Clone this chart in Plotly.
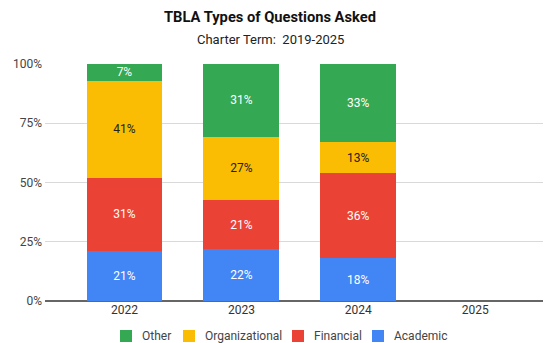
import plotly.graph_objects as go

years = ["2022", "2023", "2024", "2025"]
academic = [21, 22, 18, None]
financial = [31, 21, 36, None]
organizational = [41, 27, 13, None]
other = [7, 31, 33, None]

series = [
    ("Academic", academic, "#4285F4", "white"),
    ("Financial", financial, "#EA4335", "white"),
    ("Organizational", organizational, "#FBBC04", "#222222"),
    ("Other", other, "#34A853", "white"),
]

W, H = 545, 343
ML, MR, MT, MB = 45, 2, 64, 42
PLOT_W = W - ML - MR
PLOT_H = H - MT - MB


def px(x):
    # paper x coordinate for a pixel column
    return (x - ML) / PLOT_W


def py(y):
    # paper y coordinate for a pixel row measured from the top
    return (H - MB - y) / PLOT_H


fig = go.Figure()
for name, vals, color, tcolor in series:
    fig.add_trace(go.Bar(
        x=years, y=vals, name=name,
        marker=dict(color=color, line=dict(width=0)),
        text=[f"{v}%" if v is not None else "" for v in vals],
        textposition="inside", insidetextanchor="middle",
        textangle=0, constraintext="none",
        textfont=dict(color=tcolor, size=12, family="Roboto"),
        hoverinfo="skip", showlegend=False,
    ))

# compact legend row below the axis (Other, Organizational, Financial, Academic)
legend_left = [120, 183, 292, 372]
legend_y = 336
shapes = []
annotations = []
for (name, _, color, _), left in zip(reversed(series), legend_left):
    shapes.append(dict(
        type="rect", xref="paper", yref="paper",
        x0=px(left), x1=px(left + 12), y0=py(legend_y + 6), y1=py(legend_y - 6),
        fillcolor=color, line=dict(width=0),
    ))
    annotations.append(dict(
        text=name, x=px(left + 20), xref="paper", y=py(legend_y), yref="paper",
        xanchor="left", yanchor="middle", showarrow=False,
        font=dict(size=12, color="#444444", family="Roboto"),
    ))

annotations += [
    dict(text="<b>TBLA Types of Questions Asked</b>", x=px(270), xref="paper",
         y=py(17), yref="paper", xanchor="center", yanchor="middle",
         showarrow=False, font=dict(size=14.7, color="#111111", family="Roboto")),
    dict(text="Charter Term:  2019-2025", x=px(270), xref="paper",
         y=py(40), yref="paper", xanchor="center", yanchor="middle",
         showarrow=False, font=dict(size=13, color="#222222", family="Roboto")),
]

fig.update_layout(
    barmode="stack", barnorm="percent", bargap=0.35,
    width=W, height=H,
    margin=dict(l=ML, r=MR, t=MT, b=MB, autoexpand=False),
    paper_bgcolor="white", plot_bgcolor="white",
    font=dict(family="Roboto", size=12, color="#444444"),
    showlegend=False,
    shapes=shapes,
    annotations=annotations,
)
fig.update_xaxes(
    type="category", range=[-0.68, 3.58],
    showgrid=False, ticks="", showline=False,
    tickfont=dict(size=12, color="#333333"),
)
fig.update_yaxes(
    range=[0, 100], tickvals=[0, 25, 50, 75, 100],
    ticktext=["0%", "25%", "50%", "75%", "100%"],
    gridcolor="#d9d9d9", gridwidth=1,
    zeroline=True, zerolinecolor="#666666", zerolinewidth=1.5,
    tickfont=dict(size=12, color="#444444"),
    ticklabelstandoff=2,
)

fig.write_html("out.html")
